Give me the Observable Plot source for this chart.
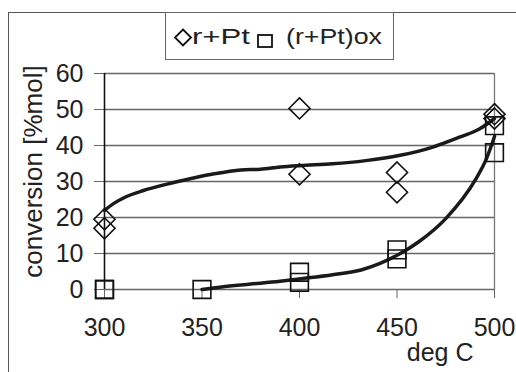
<!DOCTYPE html>
<html>
<head>
<meta charset="utf-8">
<script src="https://cdn.jsdelivr.net/npm/d3@7"></script>
<script src="https://cdn.jsdelivr.net/npm/@observablehq/plot@0.6"></script>
<style>
  html, body { margin: 0; padding: 0; background: #fff; }
  #wrap { position: relative; width: 516px; height: 372px; overflow: hidden; font-family: "Liberation Sans", Arial, sans-serif; }
  #frame { position: absolute; left: 8px; top: 12px; width: 600px; height: 400px; border-left: 1.5px solid #555; border-top: 1.5px solid #555; }
  #legend { position: absolute; left: 165px; top: 12px; width: 227px; height: 46px; border: 1.5px solid #666; background: #fff; }
  #chart { position: absolute; left: 0; top: 0; }
</style>
</head>
<body>
<div id="wrap">
  <div id="chart"></div>
  <div id="frame"></div>
  <div id="legend"></div>
</div>
<script>
// ---- data ----
const xTicks = [300, 350, 400, 450, 500];
const yTicks = [0, 10, 20, 30, 40, 50, 60];

const rptTemp = [300, 300, 400, 400, 450, 450, 500, 500];
const rptConv = [17, 19.5, 50.3, 32, 32.5, 27, 47.5, 48.7];

const oxTemp = [300, 300, 350, 400, 400, 450, 450, 500, 500];
const oxConv = [0, 0, 0, 4.8, 2.0, 11, 8.5, 45.5, 38];

const rptTrendX = [300, 305, 310, 320, 330, 340, 355, 370, 380, 390, 400, 417, 434, 451, 468, 482, 492, 500];
const rptTrendY = [22, 24, 25.5, 27.5, 29, 30.3, 32, 33.2, 33.4, 34, 34.4, 34.9, 35.8, 37.2, 39.5, 42.3, 44.5, 47.5];

const oxTrendX = [350, 360, 375, 390, 401, 417, 432, 451, 461, 475, 490, 496, 500];
const oxTrendY = [0, 0.7, 1.5, 2.3, 3.0, 4.1, 5.5, 9.8, 13.2, 19.7, 30.3, 36.5, 42.5];

const seriesNames = ["r+Pt", "(r+Pt)ox"];
const yLabel = "conversion [%mol]";
const xLabel = "deg C";

// ---- tables ----
const rpt = rptTemp.map((t, i) => ({t, v: rptConv[i]}));
const ox = oxTemp.map((t, i) => ({t, v: oxConv[i]}));
const rptTrend = rptTrendX.map((t, i) => ({t, v: rptTrendY[i]}));
const oxTrend = oxTrendX.map((t, i) => ({t, v: oxTrendY[i]}));

const font = "'Liberation Sans', Arial, sans-serif";

const chart = Plot.plot({
  width: 516,
  height: 372,
  marginTop: 73,
  marginRight: 22,
  marginBottom: 83,
  marginLeft: 104,
  style: {fontFamily: font, fontSize: "25px", color: "#222", background: "transparent", overflow: "visible"},
  x: {domain: [300, 500], ticks: xTicks, tickSize: 9, tickPadding: 20, label: null, tickFormat: d => String(d)},
  y: {domain: [0, 60], ticks: yTicks, tickSize: 10, tickPadding: 11, label: null, tickFormat: d => String(d)},
  marks: [
    Plot.ruleY(yTicks, {y: d => d, stroke: "#666", strokeWidth: 1.3}),
    Plot.ruleX([500], {x: d => d, stroke: "#777", strokeWidth: 1.3}),
    Plot.ruleX([300], {x: d => d, stroke: "#111", strokeWidth: 1.6}),
    Plot.line(rptTrend, {x: "t", y: "v", stroke: "#1a1a1a", strokeWidth: 3.5, curve: "monotone-x"}),
    Plot.line(oxTrend, {x: "t", y: "v", stroke: "#1a1a1a", strokeWidth: 3.5, curve: "monotone-x"}),
    Plot.dot(rpt, {x: "t", y: "v", symbol: "diamond2", r: 9.5, stroke: "#111", strokeWidth: 1.6, fill: "none"}),
    Plot.dot(ox, {x: "t", y: "v", symbol: "square", r: 10, stroke: "#111", strokeWidth: 1.6, fill: "none"}),
    Plot.text([yLabel], {frameAnchor: "left", text: d => d, rotate: -90, dx: -71, dy: -10, fontSize: 26, fill: "#222", lineAnchor: "middle", textAnchor: "middle"}),
    Plot.text([xLabel], {frameAnchor: "bottom-right", text: d => d, dx: -21, dy: 71, fontSize: 25, fill: "#222", lineAnchor: "bottom", textAnchor: "end"})
  ]
});
chart.querySelectorAll("[aria-label='x-axis tick'] path, [aria-label='y-axis tick'] path").forEach(p => { p.setAttribute("stroke", "#666"); });
document.getElementById("chart").appendChild(chart);

// ---- legend ----
const ns = "http://www.w3.org/2000/svg";
const lg = document.createElementNS(ns, "svg");
lg.setAttribute("width", 227); lg.setAttribute("height", 46);
lg.style.fontFamily = font;
function el(tag, attrs, txt) {
  const e = document.createElementNS(ns, tag);
  for (const k in attrs) e.setAttribute(k, attrs[k]);
  if (txt) e.textContent = txt;
  lg.appendChild(e);
  return e;
}
el("path", {d: "M17,16.5 L25,24.5 L17,32.5 L9,24.5 Z", fill: "none", stroke: "#111", "stroke-width": 1.8});
el("text", {x: 26, y: 31, "font-size": 22, fill: "#222", textLength: 58, lengthAdjust: "spacingAndGlyphs"}, seriesNames[0]);
el("rect", {x: 92, y: 22, width: 14, height: 12, fill: "none", stroke: "#111", "stroke-width": 1.8});
el("text", {x: 120, y: 31, "font-size": 22, fill: "#222", textLength: 96, lengthAdjust: "spacingAndGlyphs"}, seriesNames[1]);
document.getElementById("legend").appendChild(lg);
</script>
</body>
</html>
